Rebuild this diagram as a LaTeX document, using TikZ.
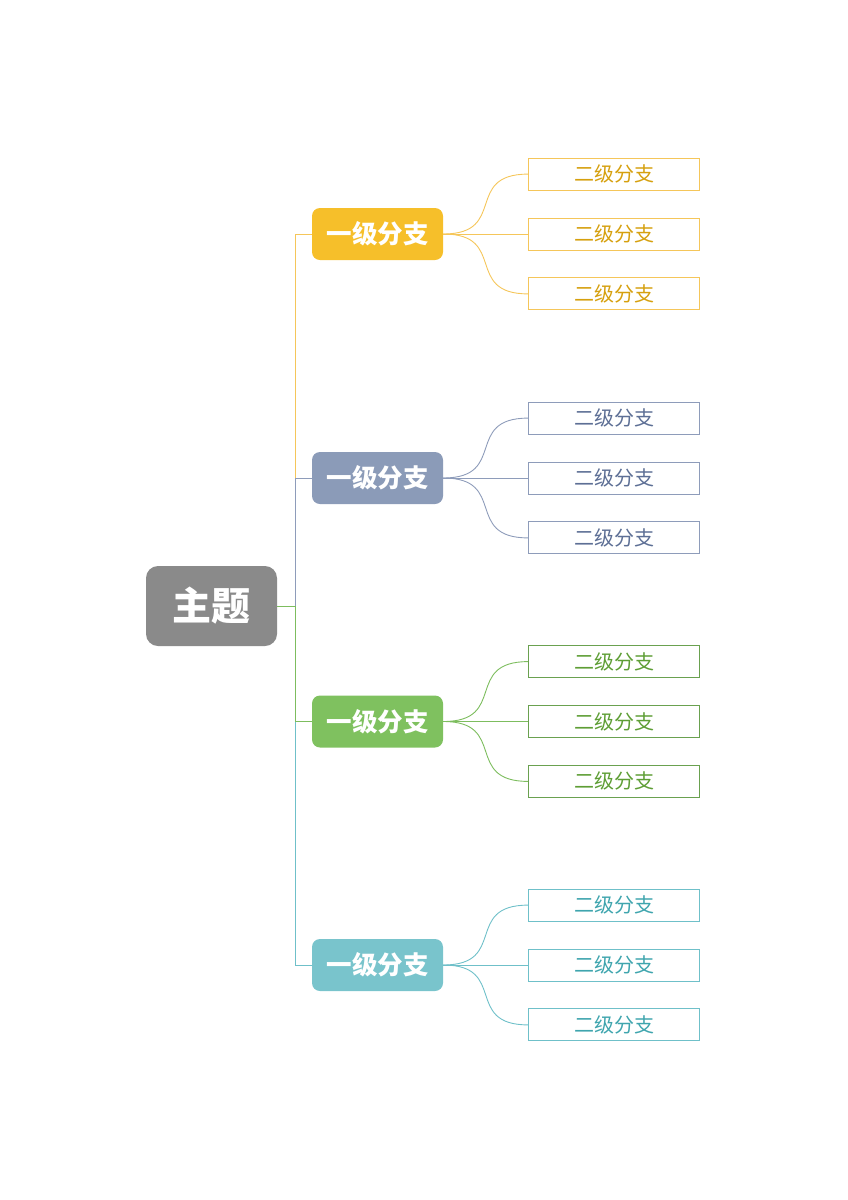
\documentclass[tikz,border=0pt]{standalone}
\usepackage{fontspec}
\newfontfamily\cjk{Noto Sans CJK SC}
\usepackage{xcolor}
\definecolor{topicgray}{HTML}{8A8A8A}
\definecolor{yfill}{HTML}{F6BF2A}
\definecolor{yline}{HTML}{F5C65A}
\definecolor{ytext}{HTML}{D6A00E}
\definecolor{bfill}{HTML}{8B9BB8}
\definecolor{bline}{HTML}{8E9CBA}
\definecolor{btext}{HTML}{5D6F95}
\definecolor{gfill}{HTML}{7FC15F}
\definecolor{gline}{HTML}{7DBD5E}
\definecolor{gtext}{HTML}{5E9E35}
\definecolor{cfill}{HTML}{79C4CC}
\definecolor{cline}{HTML}{6FC0C9}
\definecolor{ctext}{HTML}{3FA5AE}
\usepackage{tikz}
\usetikzlibrary{
    positioning
}
\tikzstyle{topicbox} = [
    rectangle,
    rounded corners=12pt,
    minimum width=131pt,
    minimum height=80pt,
    fill=topicgray,
    text=white,
    font=\cjk\bfseries\fontsize{39}{41}\selectfont
]
\tikzstyle{mainbox} = [
    rectangle,
    rounded corners=8pt,
    minimum width=131pt,
    minimum height=52pt,
    text=white,
    font=\cjk\bfseries\fontsize{25.5}{28}\selectfont
]
\tikzstyle{subbox} = [
    rectangle, draw,
    fill=white,
    minimum width=171pt,
    minimum height=32pt,
    line width=0.9pt,
    font=\cjk\fontsize{20}{22}\selectfont
]
\tikzstyle{link} = [
    line width=0.9pt
]

\begin{document}
\begin{tikzpicture}[
	x=1pt, y=-1pt,
	node distance=27pt and 85pt
]
\useasboundingbox (0,0) rectangle (848,1200);

\node (topic) [topicbox] at (211.5,606) {主题};
\coordinate (bus) at (295,606);

\node (ya) [mainbox, fill=yfill] at (377.5,234) {一级分支};
\node (ba) [mainbox, fill=bfill] at (377.5,478) {一级分支};
\node (ga) [mainbox, fill=gfill] at (377.5,721.5) {一级分支};
\node (ca) [mainbox, fill=cfill] at (377.5,965) {一级分支};

% gelber Zweig
\node (y2) [subbox, draw=yline, text=ytext, right=of ya] {二级分支};
\node (y1) [subbox, draw=yline, text=ytext, above=of y2] {二级分支};
\node (y3) [subbox, draw=yline, text=ytext, below=of y2] {二级分支};

% blauer Zweig
\node (b2) [subbox, draw=bline, text=btext, right=of ba] {二级分支};
\node (b1) [subbox, draw=bline, text=btext, above=of b2] {二级分支};
\node (b3) [subbox, draw=bline, text=btext, below=of b2] {二级分支};

% gruener Zweig
\node (g2) [subbox, draw=gline!85!black, text=gtext, right=of ga] {二级分支};
\node (g1) [subbox, draw=gline!85!black, text=gtext, above=of g2] {二级分支};
\node (g3) [subbox, draw=gline!85!black, text=gtext, below=of g2] {二级分支};

% tuerkiser Zweig
\node (c2) [subbox, draw=cline, text=ctext, right=of ca] {二级分支};
\node (c1) [subbox, draw=cline, text=ctext, above=of c2] {二级分支};
\node (c3) [subbox, draw=cline, text=ctext, below=of c2] {二级分支};

% Hauptaeste
\draw [link, draw=yline] (topic.east) -- (bus) |- (ya.west);
\draw [link, draw=bline] (topic.east) -- (bus) |- (ba.west);
\draw [link, draw=cline] (topic.east) -- (bus) |- (ca.west);
\draw [link, draw=gline] (topic.east) -- (bus) |- (ga.west);

% Unteraeste
\draw [link, draw=yline] (ya.east) .. controls +(65,0) and +(-65,0) .. (y1.west);
\draw [link, draw=yline] (ya.east) -- (y2.west);
\draw [link, draw=yline] (ya.east) .. controls +(65,0) and +(-65,0) .. (y3.west);
\draw [link, draw=bline] (ba.east) .. controls +(65,0) and +(-65,0) .. (b1.west);
\draw [link, draw=bline] (ba.east) -- (b2.west);
\draw [link, draw=bline] (ba.east) .. controls +(65,0) and +(-65,0) .. (b3.west);
\draw [link, draw=gline] (ga.east) .. controls +(65,0) and +(-65,0) .. (g1.west);
\draw [link, draw=gline] (ga.east) -- (g2.west);
\draw [link, draw=gline] (ga.east) .. controls +(65,0) and +(-65,0) .. (g3.west);
\draw [link, draw=cline] (ca.east) .. controls +(65,0) and +(-65,0) .. (c1.west);
\draw [link, draw=cline] (ca.east) -- (c2.west);
\draw [link, draw=cline] (ca.east) .. controls +(65,0) and +(-65,0) .. (c3.west);

\end{tikzpicture}
\end{document}
